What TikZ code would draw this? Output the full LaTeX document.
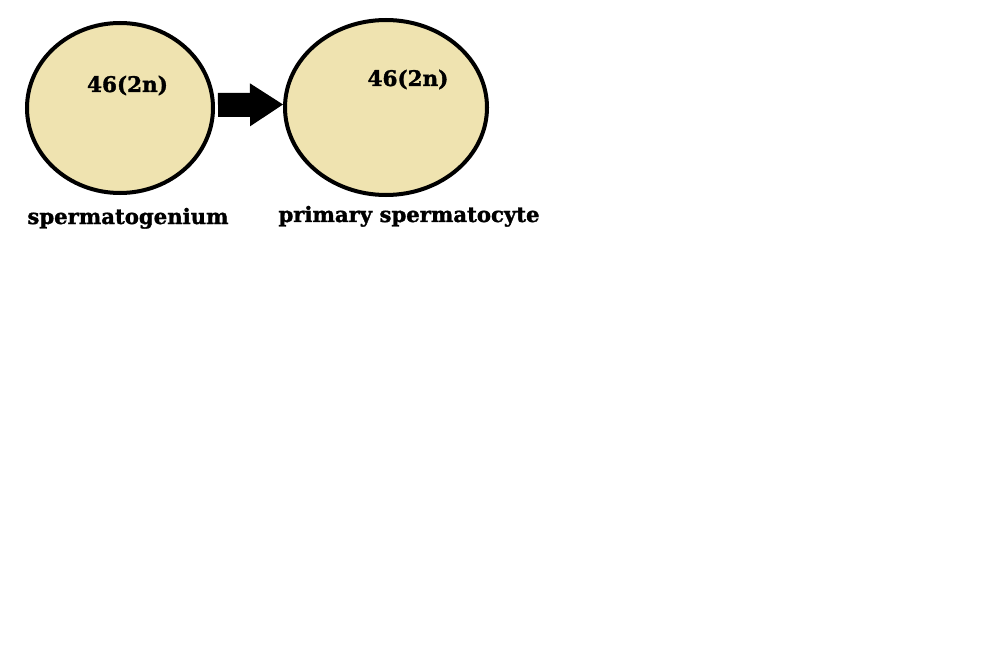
\documentclass[tikz,border=0pt]{standalone}
\usepackage{fontspec}
\setmainfont{DejaVu Serif}[BoldFeatures={FakeBold=1.5}]
\usepackage{xcolor}
\definecolor{cellfill}{RGB}{239, 227, 176}
\usetikzlibrary{shapes.geometric, arrows.meta, positioning}

\begin{document}
\begin{tikzpicture}[
    x=1pt, y=-1pt,
    cell/.style={ellipse, draw, line width=4pt, fill=cellfill, inner sep=0pt},
    chromo/.style={font=\fontsize{21.5}{26}\selectfont\bfseries, anchor=base},
    celllabel/.style={font=\fontsize{21.2}{25}\selectfont\bfseries, anchor=base},
    arrow/.style={line width=24pt, -{Triangle[length=33pt, width=43pt, line width=0pt]}}
]
    \useasboundingbox (0,0) rectangle (990,655);

    \node[cell, minimum width=186pt, minimum height=170pt] (gonium) at (120, 108) {};
    \node[cell, minimum width=202pt, minimum height=175pt] (cyte) at (386, 107.5) {};

    \node[chromo] (gonium-n) at (127.5, 92) {46(2n)};
    \node[chromo] (cyte-n) at (408, 86) {46(2n)};

    \draw[arrow] ([xshift=3pt, yshift=3pt]gonium.east) -- ([yshift=3pt]cyte.west);

    % names under the cells
    \node[celllabel] (gonium-name) at (128, 224) {spermatogenium};
    \node[celllabel] (cyte-name) at (409, 222) {primary spermatocyte};
\end{tikzpicture}
\end{document}
